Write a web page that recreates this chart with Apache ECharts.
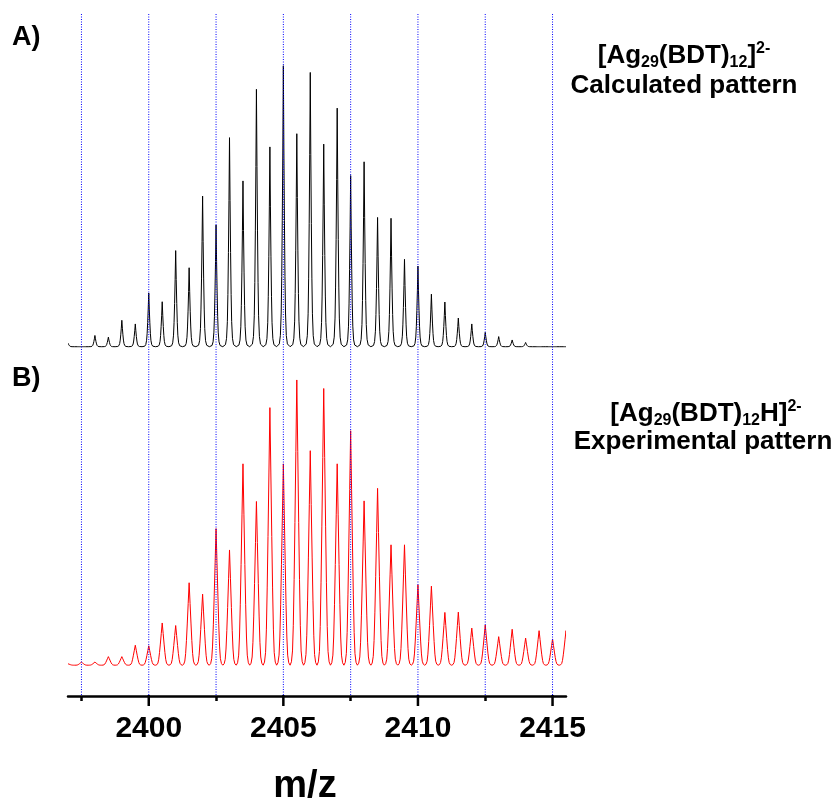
<!DOCTYPE html>
<html>
<head>
<meta charset="utf-8">
<script src="https://cdn.jsdelivr.net/npm/echarts@6/dist/echarts.min.js"></script>
<style>
  html, body { margin: 0; padding: 0; background: #fff; }
  #chart { width: 838px; height: 798px; }
</style>
</head>
<body>
<div id="chart"></div>
<script>
// m/z positions of the isotope peaks (z = 2, so 0.5 apart)
const peakMz = [2397.0, 2397.5, 2398.0, 2398.5, 2399.0, 2399.5, 2400.0, 2400.5,
  2401.0, 2401.5, 2402.0, 2402.5, 2403.0, 2403.5, 2404.0, 2404.5, 2405.0, 2405.5,
  2406.0, 2406.5, 2407.0, 2407.5, 2408.0, 2408.5, 2409.0, 2409.5, 2410.0, 2410.5,
  2411.0, 2411.5, 2412.0, 2412.5, 2413.0, 2413.5, 2414.0, 2414.5, 2415.0, 2415.5];
// relative intensity (%) - calculated pattern
const calcInt = [1.2, 0, 4.0, 3.4, 9.4, 8.1, 19.1, 16.0,
  34.2, 28.1, 53.6, 43.3, 74.4, 59.0, 91.6, 71.1, 100, 75.8,
  97.6, 72.1, 84.9, 60.9, 65.8, 46.0, 45.7, 31.1, 28.7, 18.7,
  15.9, 10.2, 8.1, 5.1, 3.6, 2.4, 1.5, 0, 0, 0];
// relative intensity (%) - experimental pattern
const expInt = [0.5, 1.1, 1.1, 3.0, 3.0, 7.0, 6.8, 14.8,
  13.9, 28.9, 24.9, 47.9, 40.4, 70.6, 57.4, 90.3, 70.6, 100,
  75.2, 97.0, 70.6, 82.2, 57.6, 62.0, 42.2, 42.2, 28.2, 27.7,
  18.5, 18.6, 13.0, 14.1, 10.0, 12.6, 9.5, 12.1, 9.2, 12.1];
const guideMz = [2397.5, 2400, 2402.5, 2405, 2407.5, 2410, 2412.5, 2415];
const majorTicks = [2400, 2405, 2410, 2415];
const minorTicks = [2397.5, 2402.5, 2407.5, 2412.5];

// peak profile (half width in m/z, fraction of height)
const calcShape = { dx: [0, 0.02, 0.04, 0.06, 0.08, 0.11, 0.15, 0.25], f: [1, 0.7, 0.45, 0.25, 0.12, 0.04, 0.01, 0] };
const expShape = { dx: [0, 0.035, 0.07, 0.1, 0.13, 0.16, 0.2, 0.25], f: [1, 0.75, 0.5, 0.3, 0.14, 0.05, 0.012, 0] };

const FONT = "'Liberation Sans', Arial, sans-serif";

function peakRenderer(shape, color) {
  return function (params, api) {
    const mz = api.value(0), h = api.value(1);
    const pts = [];
    for (let i = shape.dx.length - 1; i > 0; i--) pts.push(api.coord([mz - shape.dx[i], h * shape.f[i]]));
    for (let i = 0; i < shape.dx.length; i++) pts.push(api.coord([mz + shape.dx[i], h * shape.f[i]]));
    return {
      type: "polyline",
      shape: { points: pts },
      style: { stroke: color, lineWidth: 1, fill: null },
    };
  };
}

let chart = echarts.init(document.getElementById("chart"));
let option = {
  animation: false,
  backgroundColor: "#fff",
  grid: { left: 68, right: 272, top: 14, bottom: 102 },
  xAxis: [
    {
      type: "value",
      position: "bottom",
      min: 2397,
      max: 2415.5,
      axisLine: { onZero: false, lineStyle: { color: "#000", width: 2.5 } },
      axisTick: { customValues: minorTicks, length: 5, lineStyle: { color: "#000", width: 2.5 } },
      axisLabel: {
        customValues: majorTicks,
        formatter: (v) => String(v),
        color: "#000",
        fontSize: 30,
        fontWeight: "bold",
        fontFamily: FONT,
        margin: 18,
      },
      splitLine: { show: false },
    },
  ],
  yAxis: [
    { type: "value", show: false, min: -124.3, max: 118.4 },
    { type: "value", show: false, min: -10.8, max: 228.3 },
  ],
  series: [
    {
      name: "Calculated",
      type: "custom",
      clip: true,
      xAxisIndex: 0,
      yAxisIndex: 0,
      data: peakMz.map((m, i) => [m, calcInt[i]]),
      renderItem: peakRenderer(calcShape, "#000"),
    },
    {
      name: "Experimental",
      type: "custom",
      clip: true,
      xAxisIndex: 0,
      yAxisIndex: 1,
      data: peakMz.map((m, i) => [m, expInt[i]]),
      renderItem: peakRenderer(expShape, "#ff0000"),
    },
    {
      name: "guides",
      type: "custom",
      clip: false,
      xAxisIndex: 0,
      yAxisIndex: 0,
      data: guideMz.map((m) => [m, 0]),
      renderItem: function (params, api) {
        const p = api.coord([api.value(0), 0]);
        const cs = params.coordSys;
        return {
          type: "line",
          shape: { x1: p[0], y1: cs.y, x2: p[0], y2: cs.y + cs.height },
          style: { stroke: "#0000ff", lineWidth: 1, lineDash: [1, 1.5] },
        };
      },
    },
    {
      // longer ticks under the labelled values
      name: "majorTicks",
      type: "custom",
      clip: false,
      zlevel: 1,
      xAxisIndex: 0,
      yAxisIndex: 0,
      data: majorTicks.map((m) => [m, 0]),
      renderItem: function (params, api) {
        const p = api.coord([api.value(0), 0]);
        const cs = params.coordSys;
        const bottom = cs.y + cs.height;
        return {
          type: "rect",
          shape: { x: p[0] - 1.25, y: bottom - 1, width: 2.5, height: 11 },
          style: { fill: "#000" },
        };
      },
    },
  ],
  graphic: [
    { type: "text", x: 12, y: 38, style: { text: "A)", font: "bold 27px " + FONT, fill: "#000", verticalAlign: "middle" } },
    { type: "text", x: 12, y: 379, style: { text: "B)", font: "bold 27px " + FONT, fill: "#000", verticalAlign: "middle" } },
    {
      type: "text", x: 684, y: 56,
      style: {
        text: "[Ag{s|29}(BDT){s|12}]{p|2-}",
        font: "bold 26px " + FONT, fill: "#000", align: "center", verticalAlign: "middle", lineHeight: 30,
        rich: {
          s: { fontSize: 16, fontWeight: "bold", fontFamily: FONT, lineHeight: 14, verticalAlign: "bottom" },
          p: { fontSize: 16, fontWeight: "bold", fontFamily: FONT, lineHeight: 14, verticalAlign: "top" },
        },
      },
    },
    { type: "text", x: 684, y: 86, style: { text: "Calculated pattern", font: "bold 26px " + FONT, fill: "#000", align: "center", verticalAlign: "middle" } },
    {
      type: "text", x: 706, y: 414,
      style: {
        text: "[Ag{s|29}(BDT){s|12}H]{p|2-}",
        font: "bold 26px " + FONT, fill: "#000", align: "center", verticalAlign: "middle", lineHeight: 30,
        rich: {
          s: { fontSize: 16, fontWeight: "bold", fontFamily: FONT, lineHeight: 14, verticalAlign: "bottom" },
          p: { fontSize: 16, fontWeight: "bold", fontFamily: FONT, lineHeight: 14, verticalAlign: "top" },
        },
      },
    },
    { type: "text", x: 703, y: 442, style: { text: "Experimental pattern", font: "bold 26px " + FONT, fill: "#000", align: "center", verticalAlign: "middle" } },
    { type: "text", x: 305, y: 787, style: { text: "m/z", font: "bold 38px " + FONT, fill: "#000", align: "center", verticalAlign: "middle" } },
  ],
};
chart.setOption(option);
window.addEventListener("resize", () => {
  chart.resize();
});
</script>
</body>
</html>
